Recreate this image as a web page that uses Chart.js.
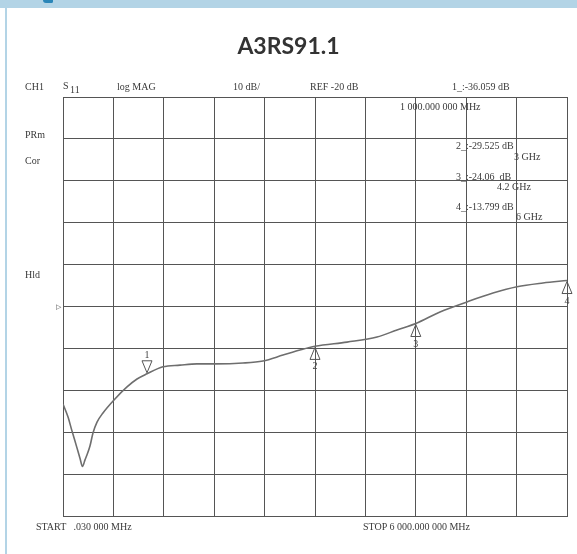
<!DOCTYPE html>
<html>
<head>
<meta charset="utf-8">
<style type="text/css">
	body{ margin:0; background:#fff; }
	.panel{ position:relative; width:577px; height:554px; overflow:hidden; background:#fff; }
	.band{ position:absolute; left:0; top:0; width:577px; height:8px; background:#b3d4e6; }
	.icon{ position:absolute; left:43px; top:0; width:10px; height:3px; background:#2a86b8; border-radius:0 0 3px 6px; }
	.side{ position:absolute; left:5px; top:8px; width:2px; height:546px; background:#b3d4e6; }
	.title{ position:absolute; left:0; width:577px; top:31px; text-align:center;
		font-family:Lato, "Open Sans", sans-serif; font-weight:bold; font-size:23px; color:#333; }
	.lbl{ position:absolute; font-family:"Liberation Serif", "DejaVu Serif", serif; font-size:10px;
		line-height:10px; color:#3a3a3a; white-space:pre; }
	canvas{ position:absolute; left:0; top:0; }
</style>
<script src="https://cdn.jsdelivr.net/npm/chart.js"></script>
</head>
<body>
<div class="panel">
	<div class="band"></div>
	<div class="icon"></div>
	<div class="side"></div>
	<canvas id="s11Chart" width="577" height="554"></canvas>
	<div class="title">A3RS91.1</div>

	<span class="lbl" style="left:25px;top:82px">CH1</span>
	<span class="lbl" style="left:63px;top:81px">S</span>
	<span class="lbl" style="left:70px;top:85px">11</span>
	<span class="lbl" style="left:117px;top:82px">log MAG</span>
	<span class="lbl" style="left:233px;top:82px">10 dB/</span>
	<span class="lbl" style="left:310px;top:82px">REF -20 dB</span>
	<span class="lbl" style="left:452px;top:82px">1_:-36.059 dB</span>
	<span class="lbl" style="left:400px;top:102px">1 000.000 000 MHz</span>
	<span class="lbl" style="left:456px;top:141px">2_:-29.525 dB</span>
	<span class="lbl" style="left:514px;top:152px">3 GHz</span>
	<span class="lbl" style="left:456px;top:172px">3_:-24.06  dB</span>
	<span class="lbl" style="left:497px;top:182px">4.2 GHz</span>
	<span class="lbl" style="left:456px;top:202px">4_:-13.799 dB</span>
	<span class="lbl" style="left:516px;top:212px">6 GHz</span>
	<span class="lbl" style="left:25px;top:130px">PRm</span>
	<span class="lbl" style="left:25px;top:156px">Cor</span>
	<span class="lbl" style="left:25px;top:270px">Hld</span>
	<span class="lbl" style="left:56px;top:302px;font-size:7px">&#9655;</span>
	<span class="lbl" style="left:36px;top:522px">START   .030 000 MHz</span>
	<span class="lbl" style="left:363px;top:522px">STOP 6 000.000 000 MHz</span>
</div>

<script type="text/javascript">

	// trace S11, log MAG
	var freqMHz = [0.03, 60, 104, 163, 202, 232, 262, 286, 321, 357, 405, 476, 607, 762, 881, 1000,
		1190, 1393, 1595, 1810, 2143, 2381, 2619, 2821, 3000, 3381, 3738, 3976, 4200, 4488, 4810,
		5119, 5405, 5714, 6000]
	var s11dB = [-43.3, -46.4, -49.5, -53.5, -56.2, -58.2, -56.6, -55.4, -53.3, -50.2, -47.6, -45.4,
		-42.3, -39.2, -37.3, -36.06, -34.4, -34.0, -33.7, -33.7, -33.5, -33.0, -31.6, -30.4, -29.5,
		-28.5, -27.3, -25.6, -24.06, -21.3, -18.9, -16.8, -15.3, -14.4, -13.8]

	// markers
	var markerFreq = [1000, 3000, 4200, 6000]
	var markerDb = [-36.059, -29.525, -24.06, -13.799]
	var markerNames = ['1', '2', '3', '4']

	// screen: 10 dB/div, ref -20 dB on the 5th line
	var yMin = -70, yMax = 30, yStep = 10
	var xMin = 0, xMax = 6000, xStep = 600

	var points = freqMHz.map((f, i) => ({x: f, y: s11dB[i]}))

	var markerPlugin = {
		id: 'markers',
		afterDatasetsDraw: chart => {
			var ctx = chart.ctx
			var xs = chart.scales.x, ys = chart.scales.y
			ctx.save()
			ctx.strokeStyle = '#555'
			ctx.fillStyle = '#444'
			ctx.lineWidth = 1
			ctx.font = '10px "Liberation Serif", serif'
			ctx.textAlign = 'center'
			markerFreq.forEach((f, i) => {
				var px = xs.getPixelForValue(f)
				var py = ys.getPixelForValue(markerDb[i])
				ctx.beginPath()
				if (i == 0) {
					// active marker, above the trace, pointing down
					ctx.moveTo(px, py - 1)
					ctx.lineTo(px - 5, py - 13)
					ctx.lineTo(px + 5, py - 13)
					ctx.closePath()
					ctx.stroke()
					ctx.fillText(markerNames[i], px, py - 16)
				} else {
					ctx.moveTo(px, py + 1)
					ctx.lineTo(px - 5, py + 13)
					ctx.lineTo(px + 5, py + 13)
					ctx.closePath()
					ctx.stroke()
					ctx.fillText(markerNames[i], px, py + 23)
				}
			})
			ctx.restore()
		}
	}

	var gridOpts = {
		color: '#555',
		lineWidth: 1,
		drawTicks: false
	}

	new Chart(document.getElementById('s11Chart'), {
		type: 'line',
		data: {
			datasets: [{
				label: 'S11',
				data: points,
				borderColor: '#6e6e6e',
				borderWidth: 1.6,
				pointRadius: 0,
				cubicInterpolationMode: 'monotone',
				fill: false
			}]
		},
		options: {
			responsive: false,
			animation: false,
			events: [],
			layout: {
				padding: {left: 63, top: 97, right: 10, bottom: 38}
			},
			scales: {
				x: {
					type: 'linear',
					min: xMin,
					max: xMax,
					ticks: {display: false, stepSize: xStep},
					grid: gridOpts,
					border: {display: true, color: '#555', width: 1}
				},
				y: {
					min: yMin,
					max: yMax,
					ticks: {display: false, stepSize: yStep},
					grid: gridOpts,
					border: {display: true, color: '#555', width: 1}
				}
			},
			plugins: {
				legend: {display: false},
				title: {display: false},
				tooltip: {enabled: false}
			}
		},
		plugins: [markerPlugin]
	})

</script>
</body>
</html>
